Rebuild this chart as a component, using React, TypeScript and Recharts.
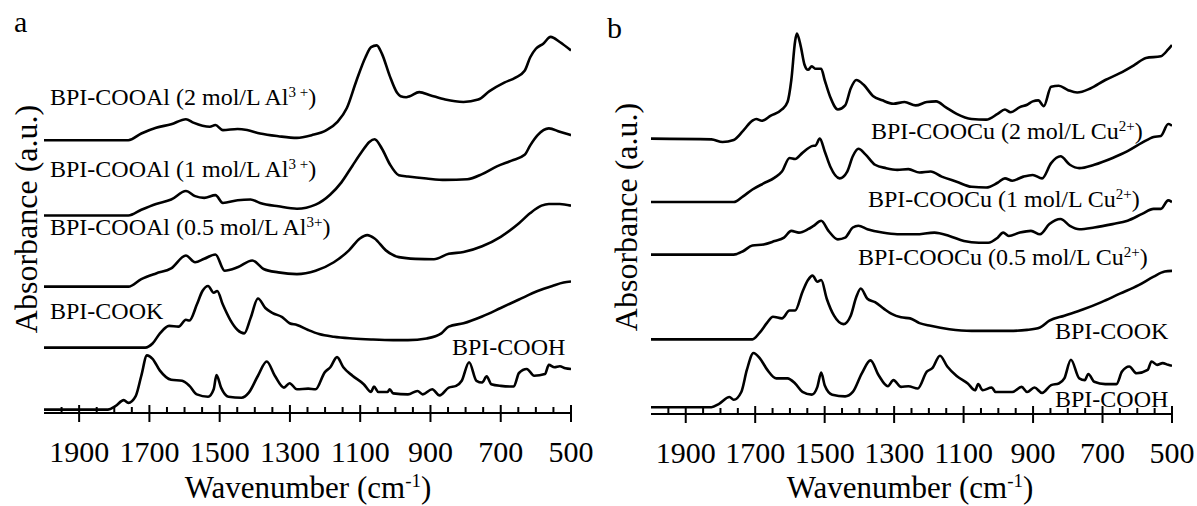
import React from 'react';
import { LineChart, Line, XAxis, YAxis } from 'recharts';

type Pt = [number, number]; // [wavenumber cm-1, absorbance a.u.]

const TICKS = [1950, 1900, 1850, 1800, 1750, 1700, 1650, 1600, 1550, 1500, 1450, 1400, 1350, 1300, 1250, 1200, 1150, 1100, 1050, 1000, 950, 900, 850, 800, 750, 700, 650, 600, 550, 500];
const MAJOR = [1900, 1700, 1500, 1300, 1100, 900, 700, 500];

// ---------- Panel a ----------
const A_COOAL_2M: Pt[] = [
  [2000, 8.05], [1760, 8.05], [1723, 8.25], [1681, 8.42], [1638, 8.52], [1596, 8.67], [1575, 8.57], [1549, 8.48],
  [1528, 8.45], [1512, 8.5], [1491, 8.35], [1449, 8.38], [1422, 8.35], [1385, 8.25], [1333, 8.17], [1280, 8.12],
  [1238, 8.2], [1196, 8.35], [1164, 8.6], [1138, 9.0], [1111, 9.8], [1085, 10.5], [1069, 10.8], [1053, 10.85],
  [1038, 10.6], [1016, 9.95], [995, 9.45], [985, 9.35], [969, 9.32], [959, 9.35], [932, 9.47], [901, 9.38],
  [858, 9.25], [806, 9.18], [764, 9.25], [732, 9.5], [690, 9.75], [658, 9.9], [632, 10.1], [616, 10.5],
  [600, 10.75], [579, 10.9], [558, 11.1], [532, 10.95], [500, 10.7],
];
const A_COOAL_1M: Pt[] = [
  [2000, 5.83], [1760, 5.83], [1723, 6.0], [1681, 6.17], [1638, 6.3], [1596, 6.55], [1570, 6.4], [1544, 6.35],
  [1512, 6.43], [1491, 6.2], [1449, 6.28], [1412, 6.3], [1385, 6.2], [1333, 6.1], [1280, 6.03], [1227, 6.15],
  [1185, 6.45], [1154, 6.8], [1122, 7.3], [1096, 7.7], [1074, 8.0], [1059, 8.08], [1038, 7.8], [1016, 7.35],
  [990, 7.02], [964, 6.98], [911, 6.92], [858, 6.88], [795, 6.9], [753, 7.05], [711, 7.28], [669, 7.45],
  [632, 7.62], [616, 7.9], [595, 8.2], [563, 8.4], [532, 8.3], [500, 8.2],
];
const A_COOAL_05M: Pt[] = [
  [2000, 3.73], [1760, 3.73], [1723, 3.95], [1681, 4.12], [1638, 4.27], [1596, 4.65], [1570, 4.45], [1544, 4.55],
  [1512, 4.68], [1486, 4.2], [1449, 4.3], [1407, 4.5], [1375, 4.25], [1333, 4.15], [1280, 4.1], [1227, 4.2],
  [1175, 4.45], [1132, 4.8], [1101, 5.15], [1080, 5.25], [1059, 5.15], [1027, 4.8], [990, 4.6], [943, 4.55],
  [890, 4.54], [848, 4.7], [806, 4.75], [753, 4.92], [700, 5.2], [648, 5.6], [616, 5.9], [584, 6.12],
  [563, 6.17], [532, 6.17], [500, 6.12],
];
const A_COOK: Pt[] = [
  [2000, 1.93], [1712, 1.93], [1691, 2.05], [1670, 2.35], [1644, 2.57], [1617, 2.55], [1596, 2.75], [1586, 2.73],
  [1565, 3.2], [1549, 3.6], [1533, 3.75], [1517, 3.55], [1507, 3.6], [1491, 3.2], [1470, 2.75], [1449, 2.45],
  [1430, 2.35], [1412, 2.8], [1391, 3.38], [1370, 3.1], [1349, 2.95], [1322, 2.83], [1301, 2.65], [1280, 2.6],
  [1248, 2.45], [1217, 2.33], [1175, 2.25], [1122, 2.2], [1069, 2.17], [1006, 2.15], [964, 2.15], [911, 2.2],
  [869, 2.35], [848, 2.55], [806, 2.65], [753, 2.85], [700, 3.1], [648, 3.35], [595, 3.6], [553, 3.75],
  [521, 3.85], [500, 3.88],
];
const A_COOH: Pt[] = [
  [2000, 0.1], [1818, 0.1], [1797, 0.2], [1773, 0.38], [1760, 0.3], [1739, 0.5], [1723, 1.1], [1707, 1.7],
  [1691, 1.6], [1670, 1.25], [1638, 0.98], [1607, 0.95], [1586, 0.8], [1565, 0.55], [1533, 0.48], [1517, 0.7],
  [1509, 1.12], [1496, 0.75], [1475, 0.48], [1438, 0.45], [1417, 0.6], [1391, 1.1], [1366, 1.52], [1343, 1.1],
  [1317, 0.75], [1301, 0.88], [1280, 0.7], [1248, 0.72], [1227, 0.7], [1201, 1.2], [1185, 1.35], [1166, 1.65],
  [1148, 1.35], [1122, 1.1], [1090, 0.85], [1069, 0.62], [1061, 0.78], [1048, 0.62], [1022, 0.62], [1016, 0.7],
  [1006, 0.58], [964, 0.55], [937, 0.65], [922, 0.55], [895, 0.7], [874, 0.52], [848, 0.75], [827, 0.8],
  [811, 0.95], [790, 1.5], [769, 0.95], [753, 0.9], [740, 1.08], [727, 0.85], [700, 0.8], [663, 0.78],
  [648, 1.18], [626, 1.3], [605, 1.1], [574, 1.15], [563, 1.42], [547, 1.35], [532, 1.38], [516, 1.32], [500, 1.3],
];

// ---------- Panel b ----------
const B_COOCU_2M: Pt[] = [
  [2000, 8.12], [1826, 8.1], [1794, 8.02], [1762, 8.08], [1735, 8.35], [1708, 8.65], [1697, 8.7], [1681, 8.65],
  [1655, 8.8], [1623, 8.98], [1607, 9.2], [1596, 9.85], [1585, 11.0], [1580, 11.22], [1569, 10.85], [1558, 10.3],
  [1548, 10.15], [1537, 10.25], [1526, 10.18], [1510, 10.18], [1500, 9.85], [1484, 9.35], [1462, 8.98], [1441, 9.1],
  [1425, 9.6], [1409, 9.85], [1387, 9.7], [1361, 9.38], [1334, 9.25], [1302, 9.15], [1270, 9.2], [1238, 9.1],
  [1206, 9.2], [1179, 9.22], [1152, 9.05], [1120, 8.85], [1077, 8.7], [1035, 8.68], [1002, 8.85], [981, 8.98],
  [965, 8.9], [938, 9.05], [917, 9.12], [901, 9.22], [885, 9.25], [869, 9.08], [848, 9.65], [826, 9.68],
  [799, 9.55], [773, 9.48], [735, 9.6], [692, 9.85], [650, 10.05], [607, 10.3], [575, 10.5], [532, 10.55],
  [511, 10.75], [500, 10.88],
];
const B_COOCU_1M: Pt[] = [
  [2000, 6.25], [1762, 6.25], [1735, 6.42], [1708, 6.62], [1676, 6.8], [1644, 6.97], [1623, 7.15], [1601, 7.55],
  [1585, 7.52], [1564, 7.7], [1537, 7.9], [1526, 7.92], [1514, 8.12], [1500, 7.75], [1484, 7.3], [1457, 6.95],
  [1435, 7.15], [1419, 7.6], [1403, 7.82], [1382, 7.65], [1355, 7.35], [1323, 7.25], [1291, 7.2], [1259, 7.22],
  [1227, 7.12], [1195, 7.15], [1163, 7.0], [1120, 6.85], [1077, 6.7], [1035, 6.68], [1002, 6.82], [981, 6.95],
  [960, 6.88], [928, 7.0], [901, 7.05], [874, 6.95], [848, 7.4], [821, 7.6], [794, 7.35], [767, 7.25],
  [724, 7.35], [671, 7.55], [628, 7.75], [586, 8.0], [553, 8.17], [532, 8.2], [511, 8.55], [500, 8.5],
];
const B_COOCU_05M: Pt[] = [
  [2000, 4.7], [1762, 4.7], [1735, 4.8], [1708, 4.97], [1676, 5.0], [1644, 5.1], [1617, 5.2], [1596, 5.4],
  [1574, 5.35], [1548, 5.45], [1532, 5.55], [1510, 5.7], [1489, 5.4], [1462, 5.15], [1441, 5.2], [1419, 5.5],
  [1403, 5.55], [1377, 5.45], [1334, 5.35], [1291, 5.3], [1238, 5.3], [1184, 5.35], [1141, 5.25], [1099, 5.1],
  [1056, 5.05], [1029, 5.05], [1002, 5.2], [986, 5.35], [970, 5.25], [938, 5.35], [906, 5.4], [880, 5.3],
  [853, 5.6], [821, 5.75], [794, 5.55], [767, 5.45], [724, 5.5], [671, 5.6], [628, 5.7], [586, 5.9],
  [553, 6.05], [532, 6.05], [511, 6.3], [500, 6.25],
];
const B_COOK: Pt[] = [
  [2000, 2.2], [1708, 2.2], [1687, 2.4], [1665, 2.7], [1649, 2.87], [1623, 2.82], [1601, 3.05], [1585, 3.05],
  [1564, 3.6], [1548, 3.95], [1535, 4.08], [1521, 3.9], [1510, 3.95], [1494, 3.4], [1473, 2.9], [1446, 2.65],
  [1425, 2.9], [1409, 3.45], [1396, 3.7], [1377, 3.4], [1355, 3.3], [1329, 3.1], [1307, 2.95], [1280, 2.85],
  [1254, 2.82], [1227, 2.68], [1195, 2.6], [1141, 2.5], [1077, 2.45], [1024, 2.45], [970, 2.45], [917, 2.48],
  [880, 2.55], [853, 2.75], [810, 2.9], [757, 3.08], [703, 3.3], [650, 3.55], [596, 3.8], [553, 4.05],
  [521, 4.2], [500, 4.22],
];
const B_COOH: Pt[] = [
  [2000, 0.2], [1826, 0.2], [1804, 0.3], [1774, 0.5], [1762, 0.42], [1740, 0.65], [1724, 1.3], [1705, 1.8],
  [1687, 1.65], [1665, 1.3], [1639, 1.05], [1607, 1.05], [1585, 0.9], [1564, 0.65], [1537, 0.57], [1521, 0.8],
  [1510, 1.22], [1500, 0.85], [1478, 0.57], [1441, 0.52], [1419, 0.65], [1393, 1.2], [1368, 1.58], [1345, 1.15],
  [1318, 0.82], [1302, 1.0], [1280, 0.8], [1259, 0.82], [1232, 0.75], [1206, 1.25], [1190, 1.35], [1168, 1.72],
  [1147, 1.4], [1120, 1.12], [1088, 0.9], [1067, 0.7], [1058, 0.88], [1045, 0.7], [1019, 0.78], [1008, 0.65],
  [960, 0.65], [933, 0.8], [917, 0.65], [896, 0.78], [874, 0.62], [848, 0.85], [826, 0.9], [810, 1.05],
  [791, 1.6], [767, 1.05], [751, 1.0], [741, 1.18], [724, 0.95], [692, 0.88], [660, 0.88], [644, 1.25],
  [623, 1.4], [602, 1.2], [570, 1.3], [559, 1.55], [543, 1.45], [527, 1.5], [511, 1.45], [500, 1.42],
];

const SERIES_A = [A_COOAL_2M, A_COOAL_1M, A_COOAL_05M, A_COOK, A_COOH];
const SERIES_B = [B_COOCU_2M, B_COOCU_1M, B_COOCU_05M, B_COOK, B_COOH];

const FONT = '"Liberation Serif", "Times New Roman", Times, serif';
const AXIS_LINE = { stroke: '#000', strokeWidth: 2 };

const toRows = (pts: Pt[]) => pts.map(([wn, a]) => ({ wn, a }));

function WnTick(props: any) {
  const { x, y, payload } = props;
  const v = payload.value as number;
  const major = MAJOR.includes(v);
  return (
    <g>
      <line x1={x} x2={x} y1={major ? y - 8 : y - 6} y2={major ? y + 9 : y} stroke="#000" strokeWidth={2} />
      {major && (
        <text x={x} y={y + 49} textAnchor="middle" fontSize={30} fontFamily={FONT} fill="#000">
          {v}
        </text>
      )}
    </g>
  );
}

interface PanelProps {
  left: number;
  width: number;
  margin: { top: number; right: number; bottom: number; left: number };
  xAxisHeight: number;
  yMax: number;
  series: Pt[][];
}

function Panel({ left, width, margin, xAxisHeight, yMax, series }: PanelProps) {
  return (
    <div style={{ position: 'absolute', left, top: 0 }}>
      <LineChart width={width} height={506} margin={margin}>
        <XAxis
          xAxisId="b"
          type="number"
          dataKey="wn"
          domain={[500, 2000]}
          reversed
          allowDataOverflow
          ticks={TICKS}
          interval={0}
          tickSize={0}
          tickMargin={0}
          tickLine={false}
          axisLine={AXIS_LINE}
          tick={<WnTick />}
          height={xAxisHeight}
        />
        <XAxis
          xAxisId="t"
          orientation="top"
          type="number"
          dataKey="wn"
          domain={[500, 2000]}
          reversed
          allowDataOverflow
          tick={false}
          tickLine={false}
          axisLine={AXIS_LINE}
          height={0}
        />
        <YAxis yAxisId="l" type="number" domain={[0, yMax]} allowDataOverflow tick={false} tickLine={false} axisLine={AXIS_LINE} width={0} />
        <YAxis yAxisId="r" orientation="right" type="number" domain={[0, yMax]} allowDataOverflow tick={false} tickLine={false} axisLine={AXIS_LINE} width={0} />
        {series.map((s, i) => (
          <Line
            key={i}
            xAxisId="b"
            yAxisId="l"
            data={toRows(s)}
            dataKey="a"
            type="monotone"
            stroke="#000"
            strokeWidth={2.6}
            dot={false}
            activeDot={false}
            isAnimationActive={false}
          />
        ))}
      </LineChart>
    </div>
  );
}

const T = { fontFamily: FONT, fill: '#000' } as const;

function Sup({ children, size = 15, rise = 8 }: { children: React.ReactNode; size?: number; rise?: number }) {
  return (
    <>
      <tspan dy={-rise} fontSize={size}>{children}</tspan>
      <tspan dy={rise}>)</tspan>
    </>
  );
}

export default function App() {
  return (
    <div style={{ position: 'absolute', left: 0, top: 0, width: 1197, height: 506, background: '#fff', overflow: 'hidden' }}>
      <Panel left={0} width={597} margin={{ top: 22, right: 26, bottom: 0, left: 44 }} xAxisHeight={93} yMax={11.54} series={SERIES_A} />
      <Panel left={597} width={600} margin={{ top: 22, right: 25, bottom: 0, left: 54 }} xAxisHeight={92} yMax={11.56} series={SERIES_B} />
      <svg width={1197} height={506} style={{ position: 'absolute', left: 0, top: 0, pointerEvents: 'none' }}>
        {/* panel letters */}
        <text x={14} y={32} fontSize={30} {...T}>a</text>
        <text x={607} y={38} fontSize={30} {...T}>b</text>

        {/* axis titles */}
        <text x={308} y={498} fontSize={31} textAnchor="middle" {...T}>
          Wavenumber (cm<tspan dy={-11} fontSize={19}>-1</tspan><tspan dy={11}>)</tspan>
        </text>
        <text x={910} y={498} fontSize={31} textAnchor="middle" {...T}>
          Wavenumber (cm<tspan dy={-11} fontSize={19}>-1</tspan><tspan dy={11}>)</tspan>
        </text>
        <text x={37} y={219} fontSize={32} textAnchor="middle" transform="rotate(-90 37 219)" {...T}>
          Absorbance (a.u.)
        </text>
        <text x={637} y={217} fontSize={32} textAnchor="middle" transform="rotate(-90 637 217)" {...T}>
          Absorbance (a.u.)
        </text>

        {/* panel a labels */}
        <text x={50} y={105} fontSize={24} {...T}>BPI-COOAl (2 mol/L Al<Sup>3 +</Sup></text>
        <text x={50} y={177} fontSize={24} {...T}>BPI-COOAl (1 mol/L Al<Sup>3 +</Sup></text>
        <text x={50} y={235} fontSize={24} {...T}>BPI-COOAl (0.5 mol/L Al<Sup>3+</Sup></text>
        <text x={50} y={319} fontSize={24} {...T}>BPI-COOK</text>
        <text x={452} y={355} fontSize={24} {...T}>BPI-COOH</text>

        {/* panel b labels */}
        <text x={871} y={139} fontSize={24} {...T}>BPI-COOCu (2 mol/L Cu<Sup>2+</Sup></text>
        <text x={868} y={207} fontSize={24} {...T}>BPI-COOCu (1 mol/L Cu<Sup>2+</Sup></text>
        <text x={858} y={265} fontSize={24} {...T}>BPI-COOCu (0.5 mol/L Cu<Sup>2+</Sup></text>
        <text x={1055} y={339} fontSize={24} {...T}>BPI-COOK</text>
        <text x={1055} y={407} fontSize={24} {...T}>BPI-COOH</text>
      </svg>
    </div>
  );
}
